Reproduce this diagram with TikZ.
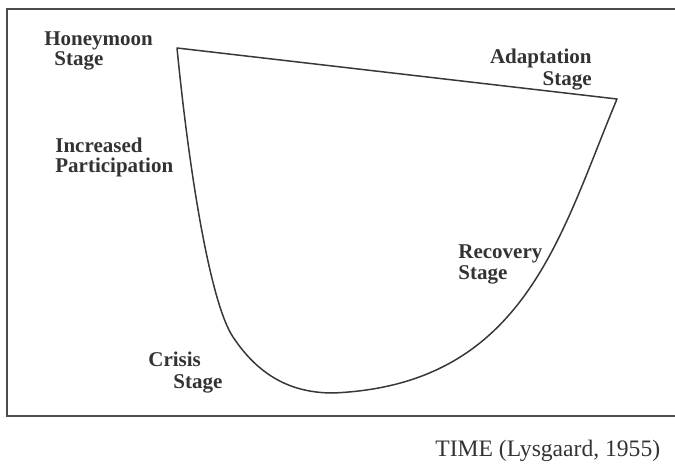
\documentclass[tikz,border=0pt]{standalone}
\usepackage{fontspec}
\setmainfont{Liberation Serif}
\begin{document}
\begin{tikzpicture}[x=0.5pt,y=-0.5pt,
  lbl/.style={font=\fontsize{10.5}{12}\selectfont\bfseries, text=black!80, inner sep=0pt},
  ln/.style={draw=black!78, line width=0.75pt, line join=round}]
\useasboundingbox (0,0) rectangle (675,465);
% frame
\coordinate (ftr) at (675,9);
\coordinate (ftl) at (7,9);
\coordinate (fbl) at (7,416);
\coordinate (fbr) at (675,416);
\draw[draw=black!70, line width=0.8pt] (ftr) -- (ftl) -- (fbl) -- (fbr);
% curve
\coordinate (honey) at (177,48);
\coordinate (adapt) at (617,99);
\coordinate (bottom) at (333,393);
\coordinate (crisis) at (233,337);
\draw[ln] (honey) -- (adapt)
  .. controls (560,235) and (525,385) .. (bottom)
  .. controls (285,393) and (255,370) .. (crisis)
  .. controls (211,304) and (190,180) .. (honey) -- cycle;
% labels
\node[lbl, anchor=base west] (hm1) at (44,46) {Honeymoon};
\node[lbl, anchor=base west] (hm2) at (54,66) {Stage};
\node[lbl, anchor=base west] (ip1) at (55,153) {Increased};
\node[lbl, anchor=base west] (ip2) at (55,173) {Participation};
\node[lbl, anchor=base east] (ad1) at (592,64) {Adaptation};
\node[lbl, anchor=base east] (ad2) at (592,86) {Stage};
\node[lbl, anchor=base west] (rc1) at (458,258) {Recovery};
\node[lbl, anchor=base west] (rc2) at (458,279) {Stage};
\node[lbl, anchor=base west] (cr1) at (148,366) {Crisis};
\node[lbl, anchor=base west] (cr2) at (173,388) {Stage};
\node[font=\fontsize{11.8}{14}\selectfont, text=black!80, inner sep=0pt, anchor=base west] (time) at (435,456) {TIME (Lysgaard, 1955)};
\end{tikzpicture}
\end{document}
